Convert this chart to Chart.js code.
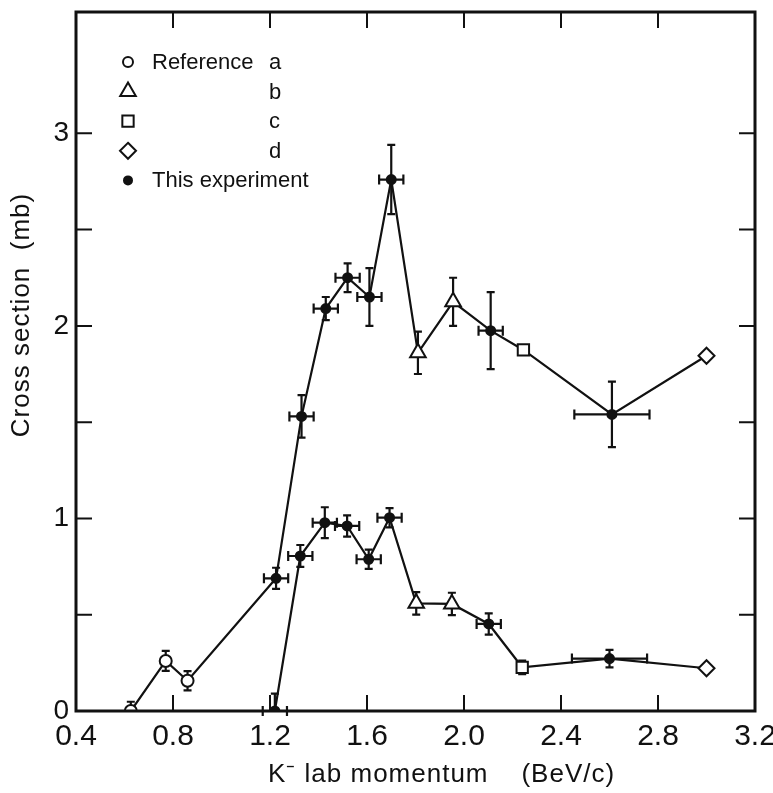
<!DOCTYPE html>
<html>
<head>
<meta charset="utf-8">
<script src="https://cdn.jsdelivr.net/npm/chart.js@4.4.0/dist/chart.umd.min.js"></script>
<style>
  html, body { margin: 0; background: #fff; }
  canvas { display: block; }
</style>
</head>
<body>
<canvas id="xsec" width="773" height="793"></canvas>
<script>
// --- data ---
// source code per point: a/b/c/d = references, e = this experiment

// upper curve (total)
const upperP      = [0.626, 0.77, 0.86, 1.225, 1.33, 1.43, 1.52, 1.61, 1.70, 1.81, 1.955, 2.11, 2.245, 2.61, 3.00];
const upperSigma  = [0.0, 0.26, 0.157, 0.689, 1.53, 2.09, 2.25, 2.15, 2.76, 1.86, 2.125, 1.975, 1.875, 1.54, 1.845];
const upperErrY   = [0.048, 0.052, 0.05, 0.055, 0.11, 0.06, 0.075, 0.15, 0.18, 0.11, 0.125, 0.2, 0, 0.17, 0];
const upperErrX   = [0, 0, 0, 0.05, 0.05, 0.05, 0.05, 0.05, 0.05, 0, 0, 0.05, 0, 0.155, 0];
const upperSource = ['a', 'a', 'a', 'e', 'e', 'e', 'e', 'e', 'e', 'b', 'b', 'e', 'c', 'e', 'd'];

// lower curve (threshold near 1.2 BeV/c)
const lowerP      = [1.22, 1.325, 1.426, 1.518, 1.607, 1.693, 1.803, 1.95, 2.102, 2.24, 2.60, 3.00];
const lowerSigma  = [0.0, 0.805, 0.978, 0.961, 0.788, 1.004, 0.559, 0.556, 0.452, 0.227, 0.272, 0.222];
const lowerErrY   = [0.09, 0.057, 0.08, 0.055, 0.05, 0.05, 0.058, 0.058, 0.055, 0.035, 0.045, 0];
const lowerErrX   = [0.05, 0.05, 0.05, 0.05, 0.05, 0.05, 0, 0, 0.05, 0, 0.155, 0];
const lowerSource = ['e', 'e', 'e', 'e', 'e', 'e', 'b', 'b', 'e', 'c', 'e', 'd'];

const xTickValues = [0.4, 0.8, 1.2, 1.6, 2.0, 2.4, 2.8, 3.2];
const yTickValues = [0, 0.5, 1, 1.5, 2, 2.5, 3];

const xTitle = 'K\u207B lab momentum    (BeV/c)';
const yTitle = 'Cross section  (mb)';

const legendKeys   = ['a', 'b', 'c', 'd', 'e'];
const legendLabels = ['Reference', '', '', '', 'This experiment'];
const legendTags   = ['a', 'b', 'c', 'd', ''];

// --- marker look per source ---
const INK = '#111';
const markerShape  = { a: 'circle', b: 'triangle', c: 'rect', d: 'rectRot', e: 'circle' };
const markerRadius = { a: 6, b: 9, c: 8, d: 8, e: 4.5 };
const markerFill   = { a: '#fff', b: '#fff', c: '#fff', d: '#fff', e: INK };
const FONT = "'Liberation Sans', Arial, sans-serif";

function curve(xs, ys, src, ex, ey) {
    return {
        data: xs.map((x, i) => ({ x: x, y: ys[i] })),
        errX: ex,
        errY: ey,
        borderColor: INK,
        borderWidth: 2.2,
        tension: 0,
        pointStyle: src.map(s => markerShape[s]),
        pointRadius: src.map(s => markerRadius[s]),
        pointHoverRadius: src.map(s => markerRadius[s]),
        pointBackgroundColor: src.map(s => markerFill[s]),
        pointBorderColor: INK,
        pointBorderWidth: 2
    };
}

// error bars go under the markers
const errorBars = {
    id: 'errorBars',
    beforeDatasetsDraw(chart) {
        const { ctx, scales: { x, y } } = chart;
        ctx.save();
        ctx.strokeStyle = INK;
        ctx.lineWidth = 2.2;
        chart.data.datasets.forEach(ds => {
            ds.data.forEach((pt, i) => {
                const px = x.getPixelForValue(pt.x);
                const py = y.getPixelForValue(pt.y);
                const ey = ds.errY[i], ex = ds.errX[i];
                ctx.beginPath();
                if (ey > 0) {
                    const top = y.getPixelForValue(pt.y + ey);
                    const bot = y.getPixelForValue(Math.max(0, pt.y - ey));
                    ctx.moveTo(px, top); ctx.lineTo(px, bot);
                    ctx.moveTo(px - 4, top); ctx.lineTo(px + 4, top);
                    if (pt.y - ey > 0) { ctx.moveTo(px - 4, bot); ctx.lineTo(px + 4, bot); }
                }
                if (ex > 0) {
                    const l = x.getPixelForValue(pt.x - ex);
                    const r = x.getPixelForValue(pt.x + ex);
                    ctx.moveTo(l, py); ctx.lineTo(r, py);
                    ctx.moveTo(l, py - 5); ctx.lineTo(l, py + 5);
                    ctx.moveTo(r, py - 5); ctx.lineTo(r, py + 5);
                }
                ctx.stroke();
            });
        });
        ctx.restore();
    }
};

// box round the plot with inward ticks on all four sides
const frame = {
    id: 'frame',
    afterDraw(chart) {
        const { ctx, chartArea: a, scales: { x, y } } = chart;
        ctx.save();
        ctx.strokeStyle = INK;
        ctx.lineWidth = 2;
        ctx.beginPath();
        xTickValues.slice(1, -1).forEach(v => {
            const px = x.getPixelForValue(v);
            ctx.moveTo(px, a.bottom); ctx.lineTo(px, a.bottom - 16);
            ctx.moveTo(px, a.top); ctx.lineTo(px, a.top + 16);
        });
        yTickValues.slice(1).forEach(v => {
            const py = y.getPixelForValue(v);
            ctx.moveTo(a.left, py); ctx.lineTo(a.left + 16, py);
            ctx.moveTo(a.right, py); ctx.lineTo(a.right - 16, py);
        });
        ctx.stroke();
        ctx.lineWidth = 3;
        ctx.strokeRect(a.left, a.top, a.right - a.left, a.bottom - a.top);
        ctx.restore();
    }
};

// axis titles sit a little off-centre in the original, so draw them by hand
const axisTitles = {
    id: 'axisTitles',
    afterDraw(chart) {
        const ctx = chart.ctx;
        ctx.save();
        ctx.fillStyle = INK;
        ctx.letterSpacing = '1px';
        ctx.font = '26px ' + FONT;
        ctx.textBaseline = 'middle';
        ctx.textAlign = 'left';
        ctx.fillText(xTitle, 268, 775);
        ctx.translate(22, 315);
        ctx.rotate(-Math.PI / 2);
        ctx.textAlign = 'center';
        ctx.fillText(yTitle, 0, 0);
        ctx.restore();
    }
};

function drawSymbol(ctx, key, cx, cy) {
    const r = markerRadius[key];
    ctx.beginPath();
    if (key === 'a' || key === 'e') {
        ctx.arc(cx, cy, key === 'a' ? 5 : 4, 0, Math.PI * 2);
    } else if (key === 'b') {
        ctx.moveTo(cx, cy - r);
        ctx.lineTo(cx + r * 0.866, cy + r * 0.5);
        ctx.lineTo(cx - r * 0.866, cy + r * 0.5);
        ctx.closePath();
    } else if (key === 'c') {
        const s = r * Math.SQRT1_2;
        ctx.rect(cx - s, cy - s, 2 * s, 2 * s);
    } else {
        ctx.moveTo(cx, cy - r); ctx.lineTo(cx + r, cy);
        ctx.lineTo(cx, cy + r); ctx.lineTo(cx - r, cy);
        ctx.closePath();
    }
    ctx.fillStyle = markerFill[key];
    ctx.fill();
    ctx.stroke();
}

const keyBox = {
    id: 'keyBox',
    afterDraw(chart) {
        const ctx = chart.ctx;
        ctx.save();
        ctx.strokeStyle = INK;
        ctx.lineWidth = 2;
        ctx.font = '22px ' + FONT;
        ctx.textBaseline = 'middle';
        legendKeys.forEach((k, i) => {
            const cy = 62 + i * 29.6;
            drawSymbol(ctx, k, 128, cy);
            ctx.fillStyle = INK;
            ctx.textAlign = 'left';
            if (legendLabels[i]) ctx.fillText(legendLabels[i], 152, cy + 1);
            if (legendTags[i]) ctx.fillText(legendTags[i], 269, cy + 1);
        });
        ctx.restore();
    }
};

new Chart(document.getElementById('xsec'), {
    type: 'line',
    data: {
        datasets: [
            curve(upperP, upperSigma, upperSource, upperErrX, upperErrY),
            curve(lowerP, lowerSigma, lowerSource, lowerErrX, lowerErrY)
        ]
    },
    options: {
        responsive: false,
        animation: false,
        devicePixelRatio: 1,
        layout: { padding: { top: 12, right: 18, left: 0, bottom: 0 } },
        plugins: { legend: { display: false }, tooltip: { enabled: false } },
        scales: {
            x: {
                type: 'linear',
                min: 0.4,
                max: 3.2,
                grid: { display: false, drawTicks: false },
                border: { display: false },
                afterBuildTicks: s => { s.ticks = xTickValues.map(v => ({ value: v })); },
                afterFit: s => { s.height = 82; s.paddingLeft = 0; s.paddingRight = 0; },
                ticks: {
                    color: INK,
                    padding: 8,
                    maxRotation: 0,
                    autoSkip: false,
                    font: { family: FONT, size: 30 },
                    callback: v => v.toFixed(1)
                }
            },
            y: {
                type: 'linear',
                min: 0,
                max: 3.63,
                grid: { display: false, drawTicks: false },
                border: { display: false },
                afterBuildTicks: s => { s.ticks = yTickValues.map(v => ({ value: v })); },
                afterFit: s => { s.width = 76; s.paddingTop = 0; s.paddingBottom = 0; },
                ticks: {
                    color: INK,
                    padding: 7,
                    autoSkip: false,
                    font: { family: FONT, size: 28 },
                    callback: v => Number.isInteger(v) ? String(v) : ''
                }
            }
        }
    },
    plugins: [errorBars, frame, axisTitles, keyBox]
});
</script>
</body>
</html>
